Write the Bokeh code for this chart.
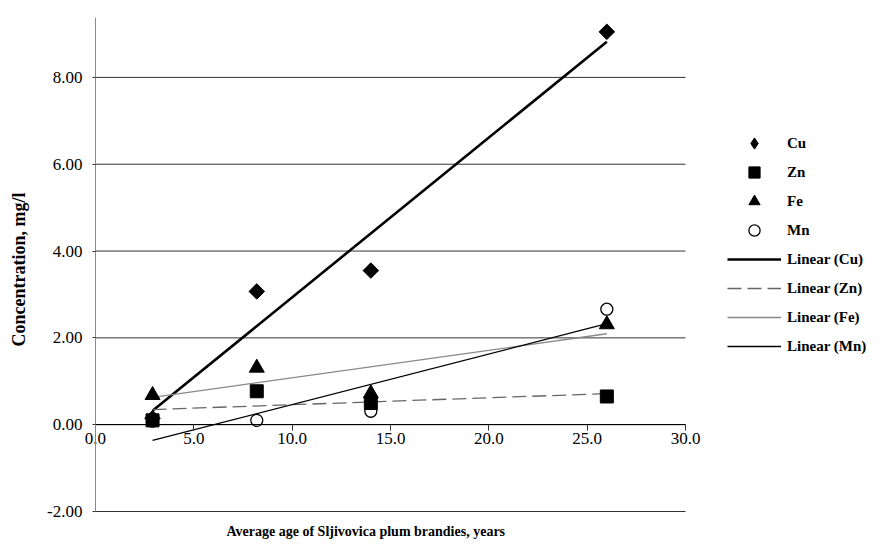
import numpy as np
from bokeh.plotting import figure
from bokeh.models import (Legend, LegendItem, Title, FixedTicker,
                          NumeralTickFormatter, LinearAxis)
from bokeh.embed import file_html
from bokeh.resources import INLINE

# ---- data ----
ages = [2.9, 8.2, 14.0, 26.0]
cu = [0.15, 3.07, 3.55, 9.05]
zn = [0.10, 0.77, 0.50, 0.65]
fe = [0.68, 1.31, 0.72, 2.31]
mn = [0.08, 0.10, 0.31, 2.66]
x_ticks = [0, 5, 10, 15, 20, 25, 30]
y_ticks = [-2, 0, 2, 4, 6, 8]
series_names = ["Cu", "Zn", "Fe", "Mn"]
x_title = "Average age of Sljivovica plum brandies, years"
y_title = "Concentration, mg/l"

FONT = "Liberation Serif"
Y_TOP = 9.38

# the frame spans nearly the whole canvas (so legend and edge labels are not
# clipped); the axes are fixed at x=0 / y=0 like in the spreadsheet chart
p = figure(width=874, height=540, x_range=(-3.305, 39.61), y_range=(-2.23, Y_TOP),
           output_backend="svg", toolbar_location=None,
           min_border_left=30, min_border_right=0, min_border_top=17,
           min_border_bottom=19)
p.outline_line_color = None
p.background_fill_color = "white"
p.xgrid.visible = False
p.ygrid.visible = False

# horizontal gridlines over the data range only
p.segment(x0=x_ticks[0], x1=x_ticks[-1], y0=y_ticks, y1=y_ticks,
          line_color="#333333", line_width=1)

xa = p.xaxis[0]
xa.fixed_location = 0
xa.bounds = (x_ticks[0], x_ticks[-1])
xa.ticker = FixedTicker(ticks=x_ticks)
xa.formatter = NumeralTickFormatter(format="0.0")
xa.axis_line_color = "black"
xa.major_tick_line_color = "#333333"
xa.major_tick_out = 6
xa.major_tick_in = 0
xa.minor_tick_line_color = None
xa.major_label_standoff = 2
xa.major_label_text_font = FONT
xa.major_label_text_font_size = "17px"
xa.major_label_text_color = "black"

ya = p.yaxis[0]
ya.fixed_location = 0
ya.bounds = (y_ticks[0], Y_TOP)
ya.ticker = FixedTicker(ticks=y_ticks)
ya.formatter = NumeralTickFormatter(format="0.00")
ya.axis_line_color = "#888888"
ya.major_tick_line_color = "#333333"
ya.major_tick_out = 3
ya.major_tick_in = 0
ya.minor_tick_line_color = None
ya.major_label_standoff = 10
ya.major_label_text_font = FONT
ya.major_label_text_font_size = "17px"
ya.major_label_text_color = "black"

# a bare axis at the left only to carry the y title
yt = LinearAxis(axis_label=y_title, axis_line_color=None,
                ticker=FixedTicker(ticks=[]),
                major_tick_line_color=None, minor_tick_line_color=None,
                major_label_standoff=0, major_tick_out=0,
                axis_label_standoff=2,
                axis_label_text_font=FONT, axis_label_text_font_style="bold",
                axis_label_text_font_size="18px",
                axis_label_text_color="black")
p.add_layout(yt, "left")

# ---- trend lines (least squares over each series) ----
def trend(vals):
    m, b = np.polyfit(ages, vals, 1)
    xs = [min(ages), max(ages)]
    return xs, [m * x + b for x in xs]

line_styles = [
    dict(line_color="black", line_width=2.6, line_dash="solid"),
    dict(line_color="#666666", line_width=1.3, line_dash="14 6"),
    dict(line_color="#888888", line_width=1.3, line_dash="solid"),
    dict(line_color="black", line_width=1.3, line_dash="solid"),
]
line_renderers = []
for vals, st in zip([cu, zn, fe, mn], line_styles):
    xs, ys = trend(vals)
    line_renderers.append(p.line(xs, ys, **st))

# ---- markers ----
r_cu = p.scatter(ages, cu, marker="square", angle=np.pi / 4, size=11,
                 fill_color="black", line_color="black")
r_zn = p.scatter(ages, zn, marker="square", size=13,
                 fill_color="black", line_color="black")
r_fe = p.scatter(ages, fe, marker="triangle", size=15,
                 fill_color="black", line_color="black")
r_mn = p.scatter(ages, mn, marker="circle", size=12, fill_color=None,
                 line_color="black", line_width=1.3)
# zero-size twin of the Cu series, used only for its legend diamond
r_cu_leg = p.scatter(ages, cu, marker="diamond", size=0,
                     fill_color="black", line_color="black")

items = [LegendItem(label=n, renderers=[r]) for n, r in
         zip(series_names, [r_cu_leg, r_zn, r_fe, r_mn])]
items += [LegendItem(label="Linear (%s)" % n, renderers=[r]) for n, r in
          zip(series_names, line_renderers)]

legend = Legend(items=items, location=(697, 161), margin=0, padding=0,
                border_line_color=None, background_fill_alpha=0,
                glyph_width=54, glyph_height=28, label_height=28,
                spacing=1, label_standoff=6,
                label_text_font=FONT, label_text_font_style="bold",
                label_text_font_size="15px", label_text_color="black")
p.add_layout(legend)

p.add_layout(Title(text=x_title, align="left", offset=196, standoff=0,
                   text_font=FONT, text_font_style="bold",
                   text_font_size="14px", text_color="black"), "below")

open("out.html", "w").write(file_html(p, INLINE))
